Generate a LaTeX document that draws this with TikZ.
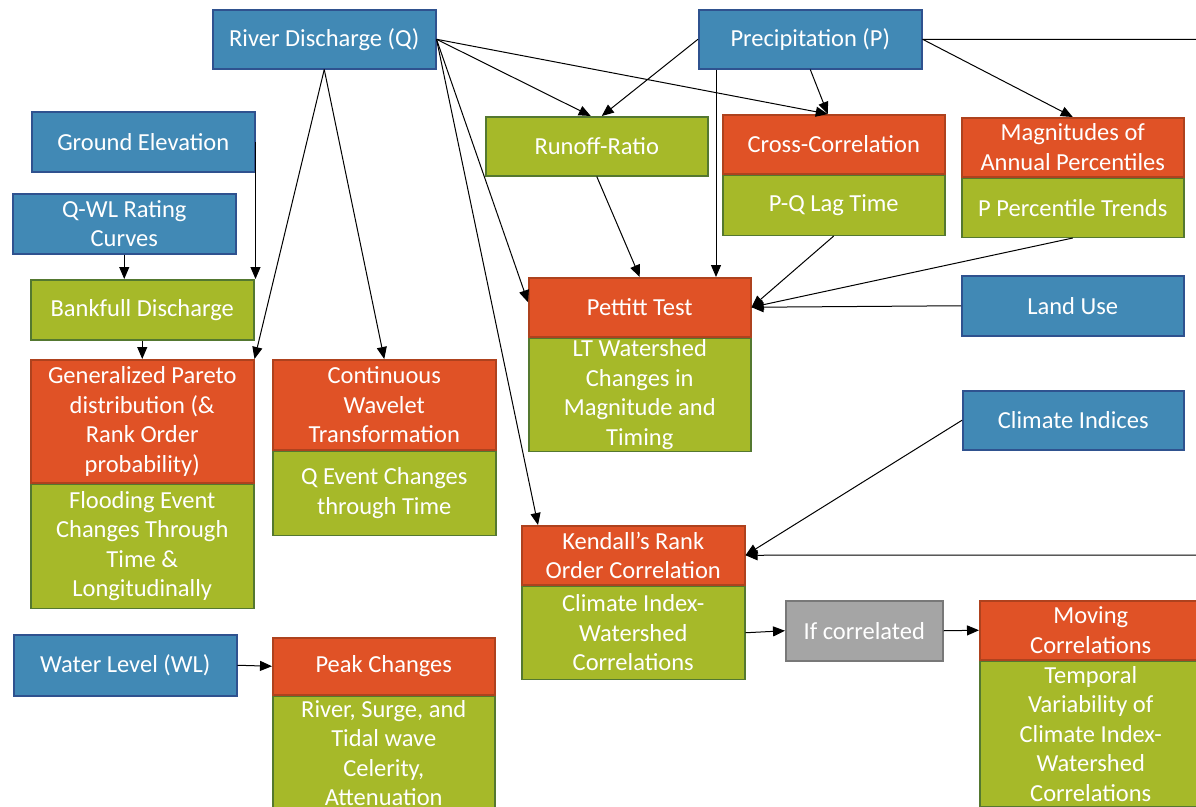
\documentclass[tikz,border=0pt]{standalone}
\usepackage{fontspec}
\setmainfont{Carlito}
\usepackage{tikz}
\usetikzlibrary{positioning,arrows.meta}

\definecolor{qblue}{RGB}{65,137,181}
\definecolor{qblueline}{RGB}{47,82,143}
\definecolor{morange}{RGB}{224,82,38}
\definecolor{moline}{RGB}{174,66,30}
\definecolor{rgreen}{RGB}{166,185,41}
\definecolor{rgline}{RGB}{84,120,48}
\definecolor{cgray}{RGB}{165,165,165}
\definecolor{cgline}{RGB}{120,120,120}

\tikzset{
	box/.style={rectangle, anchor=north west, inner sep=0pt, align=center, text=white,
		line width=1.5pt, minimum width=223pt, minimum height=59pt,
		font=\fontsize{24.5}{29.5}\selectfont},
	databox/.style={box, fill=qblue, draw=qblueline},
	methbox/.style={box, fill=morange, draw=moline},
	resbox/.style={box, fill=rgreen, draw=rgline},
	condbox/.style={box, fill=cgray, draw=cgline},
	arr/.style={-{Triangle[length=12pt,width=10pt]}, line width=1pt, black}
}

\begin{document}
\begin{tikzpicture}[x=1pt, y=-1pt]
	\useasboundingbox (0,0) rectangle (1196,806);
	\clip (0,0) rectangle (1196,806);

	% data
	\node[databox] (riverq) at (212,9) {River Discharge (Q)};
	\node[databox] (precip) at (698,9) {Precipitation (P)};
	\node[databox, minimum height=60pt] (ground) at (31,111) {Ground Elevation};
	\node[databox, minimum height=60pt] (qwl) at (12,193) {Q-WL Rating\\Curves};
	\node[databox, minimum width=222pt, minimum height=60pt] (landuse) at (961,275) {Land Use};
	\node[databox, minimum width=221pt] (climate) at (962,390) {Climate Indices};
	\node[databox, minimum height=61pt] (wlevel) at (13,634) {Water Level (WL)};

	% methods and results
	\node[resbox, minimum height=60pt] (bankfull) at (30,279) {Bankfull Discharge};
	\node[resbox, minimum width=222pt] (runoff) at (485,116) {Runoff-Ratio};

	\node[methbox, minimum width=222pt] (crosscorr) at (722,114) {Cross-Correlation};
	\node[resbox, minimum width=222pt, minimum height=60pt, below=0pt of crosscorr] (crossres) {P-Q Lag Time};

	\node[methbox, minimum width=222pt] (magn) at (961,117) {Magnitudes of\\Annual Percentiles};
	\node[resbox, minimum width=222pt, below=0pt of magn] (magnres) {P Percentile Trends};

	\node[methbox, minimum width=222pt] (pettitt) at (528,277) {Pettitt Test};
	\node[resbox, minimum width=222pt, minimum height=113pt, below=0pt of pettitt] (pettittres) {LT Watershed\\Changes in\\Magnitude and\\Timing};

	\node[methbox, minimum height=123pt] (pareto) at (30,359) {Generalized Pareto\\distribution (\&\\Rank Order\\probability)};
	\node[resbox, minimum height=124pt, below=0pt of pareto] (paretores) {Flooding Event\\Changes Through\\Time \&\\Longitudinally};

	\node[methbox, minimum height=90pt] (wavelet) at (272,359) {Continuous\\Wavelet\\Transformation};
	\node[resbox, minimum height=84pt, below=0pt of wavelet] (waveletres) {Q Event Changes\\through Time};

	\node[methbox] (kendall) at (521,525) {Kendall’s Rank\\Order Correlation};
	\node[resbox, minimum height=93pt, below=0pt of kendall] (kendallres) {Climate Index-\\Watershed\\Correlations};

	\node[condbox, minimum width=157pt, minimum height=60pt] (ifcorr) at (785,600) {If correlated};

	\node[methbox, minimum width=222pt] (moving) at (979,600) {Moving\\Correlations};
	\node[resbox, minimum width=222pt, minimum height=145pt, below=0pt of moving] (movingres) {Temporal\\Variability of\\Climate Index-\\Watershed\\Correlations};

	\node[methbox, minimum width=222pt, minimum height=57pt] (peak) at (272,637) {Peak Changes};
	\node[resbox, minimum width=222pt, minimum height=114pt, below=0pt of peak] (peakres) {River, Surge, and\\Tidal wave\\Celerity,\\Attenuation};

	% connectors
	\coordinate (offright) at (1260,555);

	\draw[arr] (riverq.east) -- ([xshift=-6pt]runoff.north);
	\draw[arr] (riverq.east) -- ([xshift=-6pt]crosscorr.north);
	\draw[arr] (riverq.east) -- ([yshift=5pt]pettitt.west);
	\draw[arr] (riverq.east) -- ([xshift=17pt]kendall.north west);
	\draw[arr] (riverq.south) -- (pareto.north east);
	\draw[arr] (riverq.south) -- (wavelet.north);

	\draw[arr] (precip.west) -- ([xshift=5pt]runoff.north);
	\draw[arr] (precip.south) -- ([xshift=-6pt]crosscorr.north);
	\draw[arr] ([xshift=18pt]precip.south west) -- ([xshift=18pt]precip.south west |- pettitt.north);
	\draw[arr] (precip.east) -- (magn.north);
	\draw[arr] (precip.east) -| (offright) -- (kendall.east);

	\draw[arr] (ground.east) -- (ground.east |- bankfull.north);
	\draw[arr] (qwl.south) -- (qwl.south |- bankfull.north);
	\draw[arr] (bankfull.south) -- (pareto.north);

	\draw[arr] (runoff.south) -- (pettitt.north);
	\draw[arr] (crossres.south) -- (pettitt.east);
	\draw[arr] (magnres.south) -- (pettitt.east);
	\draw[arr] (landuse.west) -- (pettitt.east);

	\draw[arr] (climate.west) -- (kendall.east);
	\draw[arr] (kendallres.east) -- (ifcorr.west);
	\draw[arr] (ifcorr.east) -- (moving.west);
	\draw[arr] (wlevel.east) -- (peak.west);

\end{tikzpicture}
\end{document}
